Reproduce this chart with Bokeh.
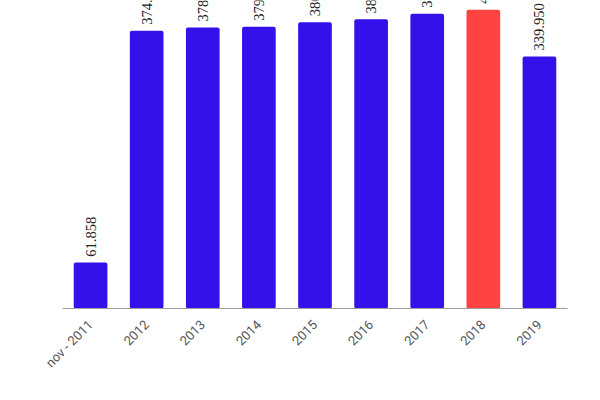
import math
from bokeh.plotting import figure
from bokeh.models import ColumnDataSource, LabelSet, Range1d, FactorRange
from bokeh.embed import file_html
from bokeh.resources import INLINE

categories = ["nov - 2011", "2012", "2013", "2014", "2015", "2016", "2017", "2018", "2019"]
values = [61858, 374620, 378750, 379900, 386010, 389850, 397300, 402700, 339950]
colors = ["#3410EB"] * 7 + ["#FF4242", "#3410EB"]


def fmt(v):
    return f"{v:,}".replace(",", ".")


labels = [fmt(v) for v in values]

source = ColumnDataSource(dict(cat=categories, val=values, color=colors, label=labels))

FONT = "Roboto"

p = figure(
    x_range=FactorRange(*categories, range_padding=0),
    y_range=Range1d(0, 415300),
    width=584, height=384,
    output_backend="svg", toolbar_location=None,
    min_border_left=62, min_border_right=17, min_border_top=0, min_border_bottom=76,
)
p.frame_height = 308
p.frame_width = 505

p.vbar(x="cat", top="val", width=0.6, source=source, fill_color="color",
       line_color=None, border_radius=2)

lbl = LabelSet(x="cat", y="val", text="label", source=source, angle=math.pi / 2,
               text_align="left", text_baseline="middle", y_offset=6,
               text_font=FONT, text_font_size="14.5px", text_color="#222222")
p.add_layout(lbl)

p.outline_line_color = None
p.xgrid.grid_line_color = None
p.ygrid.grid_line_color = None
p.yaxis.visible = False

xa = p.xaxis[0]
xa.axis_line_color = "#9e9e9e"
xa.major_tick_line_color = None
xa.minor_tick_line_color = None
xa.major_label_orientation = math.pi / 4
xa.major_label_text_font = FONT
xa.major_label_text_font_size = "13px"
xa.major_label_text_color = "#555555"
xa.major_label_standoff = 8

open("out.html", "w").write(file_html(p, INLINE))
